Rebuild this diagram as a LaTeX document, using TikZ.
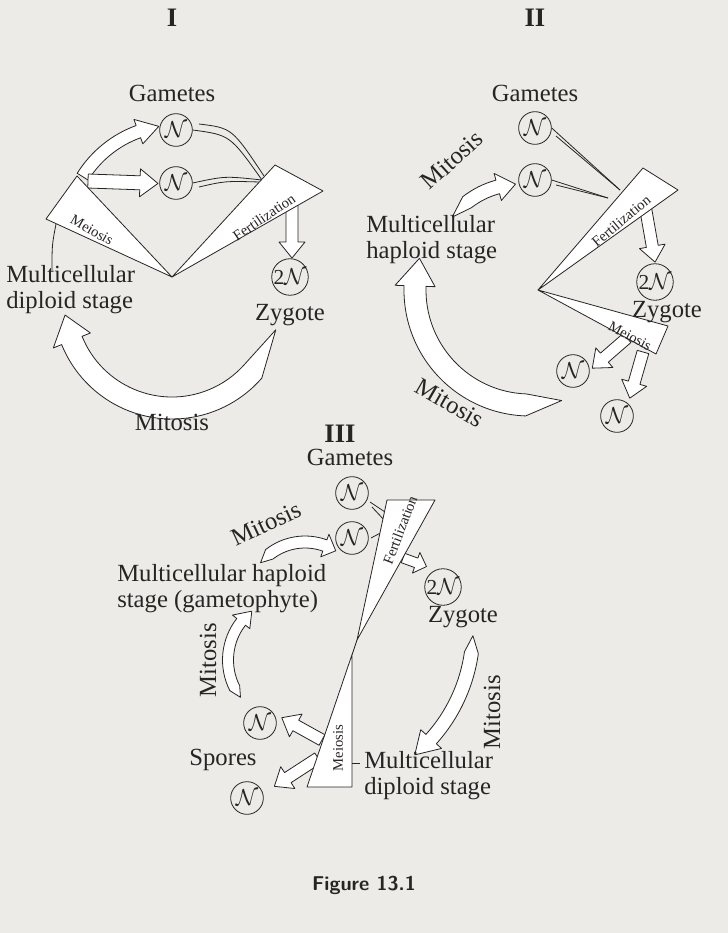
\documentclass[tikz,border=0pt]{standalone}
\usepackage{fontspec}
\setmainfont{Liberation Serif}
\usetikzlibrary{calc}
\definecolor{bg}{RGB}{236,235,232}
\definecolor{ink}{RGB}{40,36,36}
\tikzset{
 blk/.style={draw=ink, fill=white, line width=0.6pt, line join=round},
 thin/.style={draw=ink, line width=0.6pt},
 lbl/.style={text=ink, font=\fontsize{18.5}{19.5}\selectfont, inner sep=0pt},
 lbll/.style={lbl, align=left},
 small/.style={text=ink, font=\fontsize{11}{12}\selectfont, inner sep=0pt},
 num/.style={text=ink, font=\fontsize{20}{22}\selectfont\bfseries, inner sep=0pt},
 cell/.style={circle, draw=ink, line width=0.6pt, minimum size=24.5pt, inner sep=0pt, text=ink, font=\fontsize{16}{18}\selectfont}
}
% curved block arrow: cx cy R w a1 a2 hw atip taper
\newcommand{\barc}[9]{%
 \pgfmathsetmacro\bRo{#3+#4/2}\pgfmathsetmacro\bRi{#3-#4/2}%
 \pgfmathsetmacro\bHo{#3+#7}\pgfmathsetmacro\bHi{#3-#7}\pgfmathsetmacro\bAs{#5+#9}%
 \draw[blk] ($(#1,#2)+(#5:#3)$) -- ($(#1,#2)+(\bAs:\bRo)$) arc[start angle=\bAs,end angle=#6,radius=\bRo]
  -- ($(#1,#2)+(#6:\bHo)$) -- ($(#1,#2)+(#8:#3)$) -- ($(#1,#2)+(#6:\bHi)$)
  -- ($(#1,#2)+(#6:\bRi)$) arc[start angle=#6,end angle=\bAs,radius=\bRi] -- cycle;}
% straight block arrow: x y angle length w hw hl
\newcommand{\sarr}[7]{%
 \begin{scope}[shift={(#1,#2)},rotate={-#3}]
 \draw[blk] (0,{#5/2}) -- ({#4-#7},{#5/2}) -- ({#4-#7},#6) -- (#4,0) -- ({#4-#7},-#6) -- ({#4-#7},{-#5/2}) -- (0,{-#5/2}) -- cycle;
 \end{scope}}
\begin{document}
\begin{tikzpicture}[x=0.75pt,y=-0.75pt]
\fill[bg] (0,0) rectangle (728,933);
\useasboundingbox (0,0) rectangle (728,933);

%%%%%%%% I
\node[num] (t1) at (172,18) {I};
\node[lbl] (g1) at (172,93) {Gametes};
\node[cell] (n1a) at (176,130) {$\mathcal{N}$};
\node[cell] (n1b) at (176,183) {$\mathcal{N}$};
\barc{176}{235}{110}{13}{212}{250}{13}{261}{0}
\sarr{88}{181}{2}{70}{14}{14}{18}
\sarr{292}{205}{90}{53}{12}{13}{16}
\barc{172}{300}{108}{22}{16}{158}{20}{172}{25}
\draw[thin] (n1a.east) .. controls (230,135) .. (262,180);
\draw[thin] (199,124) .. controls (232,128) .. (264,176);
\draw[thin] (n1b.east) .. controls (225,176) .. (262,180);
\draw[thin] (199,187) .. controls (225,181) .. (260,182);
\draw[blk] (172,277) -- (46,219) -- (77,176) -- cycle;
\draw[blk] (172,277) -- (275,165) -- (323,191) -- cycle;
\node[small, rotate=-30] (m1) at (92,230) {Meiosis};
\node[small, rotate=34] (f1) at (264,217) {Fertilization};
\draw[thin] (52,270) .. controls (52,245) .. (56,224);
\node[cell] (z1) at (290,277) {2$\mathcal{N}$};
\node[lbl] (zy1) at (290,315) {Zygote};
\node[lbll, anchor=west] (d1) at (6,290) {Multicellular\\diploid stage};
\node[lbl] (mi1) at (172,422) {Mitosis};

%%%%%%%% II
\node[num] (t2) at (535,18) {II};
\node[lbl] (g2) at (535,93) {Gametes};
\node[cell] (n2a) at (535,128) {$\mathcal{N}$};
\node[cell] (n2b) at (535,180) {$\mathcal{N}$};
\barc{520}{270}{86}{14}{218}{255}{14}{267}{14}
\node[lbl, rotate=42] (mi2a) at (452,160) {Mitosis};
\node[lbll, anchor=west] (h2) at (366,240) {Multicellular\\haploid stage};
\barc{530}{290}{115}{22}{74}{182}{20}{196}{18}
\node[lbl, rotate=-30] (mi2b) at (450,403) {Mitosis};
\sarr{645}{205}{80}{58}{12}{13}{16}
\sarr{627}{338}{139}{46}{12}{13}{16}
\sarr{643}{352}{106}{48}{12}{13}{16}
\draw[thin] (n2a.east) -- (620,190);
\draw[thin] (556,136) -- (620,190);
\draw[thin] (n2b.east) -- (608,198);
\draw[thin] (556,185) -- (608,198);
\draw[blk] (538,290) -- (643,168) -- (678,190) -- cycle;
\draw[blk] (538,290) -- (668,326) -- (656,354) -- cycle;
\node[small, rotate=40] (f2) at (621,221) {Fertilization};
\node[small, rotate=-28] (m2) at (630,336) {Meiosis};
\node[cell] (z2) at (655,282) {2$\mathcal{N}$};
\node[lbl] (zy2) at (667,312) {Zygote};
\node[cell] (n2c) at (573,371) {$\mathcal{N}$};
\node[cell] (n2d) at (617,416) {$\mathcal{N}$};

%%%%%%%% III
\node[num] (t3) at (340,434) {III};
\node[lbl] (g3) at (350,457) {Gametes};
\node[cell] (n3a) at (352,493) {$\mathcal{N}$};
\node[cell] (n3b) at (352,538) {$\mathcal{N}$};
\barc{305}{600}{58}{12}{220}{290}{12}{302}{12}
\node[lbl, rotate=25] (mi3a) at (266,524) {Mitosis};
\node[lbll, anchor=west] (h3) at (117,589) {Multicellular haploid\\stage (gametophyte)};
\barc{290}{660}{62}{11}{143}{218}{11}{232}{10}
\node[lbl, rotate=90] (mi3b) at (208,660) {Mitosis};
\barc{310}{630}{163}{14}{2}{42}{14}{50}{6}
\node[lbl, rotate=90] (mi3c) at (492,712) {Mitosis};
\sarr{403}{558}{20}{25}{10}{11}{11}
\sarr{322}{740}{209}{46}{12}{13}{16}
\sarr{318}{758}{147}{52}{12}{13}{16}
\draw[thin] (370,502) -- (388,514);
\draw[thin] (372,507) -- (386,522);
\draw[thin] (371,538) -- (386,530);
\draw[blk] (357,640) -- (387,500) -- (435,500) -- cycle;
\draw[blk] (357,640) -- (307,787) -- (352,787) -- (352,655) -- cycle;
\node[small, rotate=69] (f3) at (400,530) {Fertilization};
\node[small, rotate=90] (m3) at (338,748) {Meiosis};
\draw[thin] (352,763) -- (360,763);
\node[cell] (z3) at (443,587) {2$\mathcal{N}$};
\node[lbl] (zy3) at (463,617) {Zygote};
\node[cell] (s3a) at (260,723) {$\mathcal{N}$};
\node[cell] (s3b) at (247,798) {$\mathcal{N}$};
\node[lbl] (sp3) at (223,760) {Spores};
\node[lbll, anchor=west] (d3) at (364,776) {Multicellular\\diploid stage};

\node[text=ink, font=\sffamily\bfseries\fontsize{15}{17}\selectfont] (cap) at (364,885) {Figure 13.1};
\end{tikzpicture}
\end{document}
